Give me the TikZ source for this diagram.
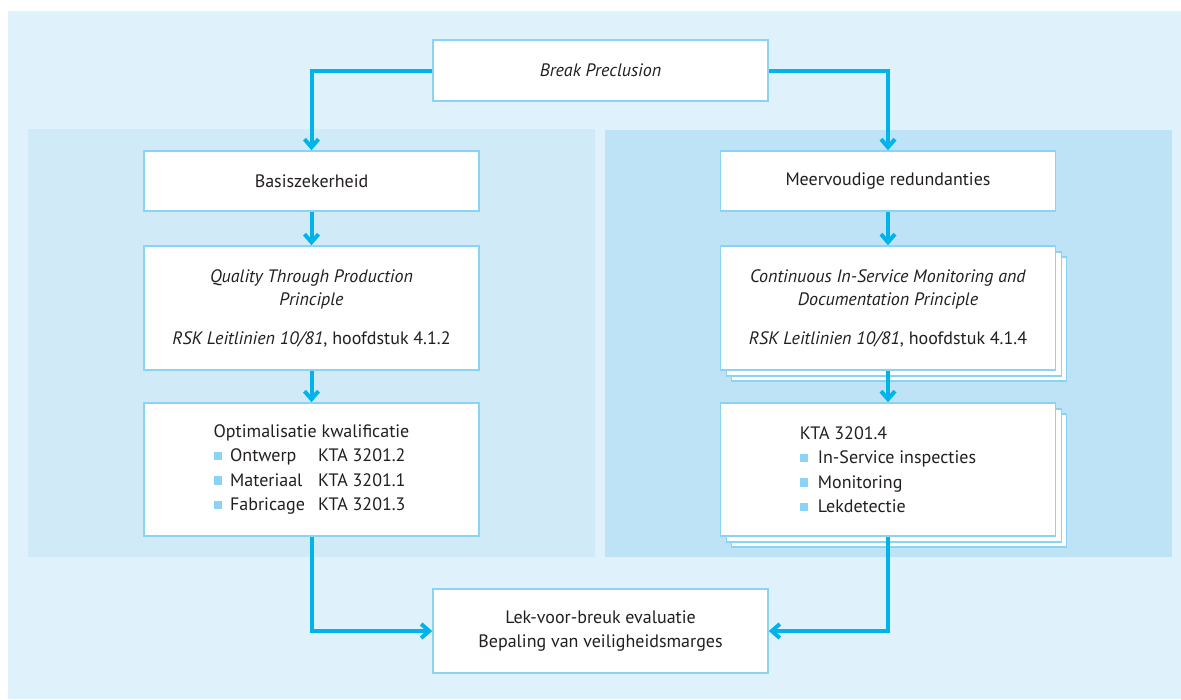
\documentclass[tikz,border=0pt]{standalone}
\usepackage{fontspec}
\setmainfont{PT Sans}
\usetikzlibrary{arrows.meta}
\definecolor{bgout}{HTML}{DFF1FB}
\definecolor{bgleft}{HTML}{D0EAF7}
\definecolor{bgright}{HTML}{BEE3F6}
\definecolor{boxc}{HTML}{8AD3F3}
\definecolor{connc}{HTML}{00B3E9}
\definecolor{bulc}{HTML}{8AD3F3}
\definecolor{txt}{HTML}{231F20}
\newcommand{\bulsq}{\textcolor{bulc}{\rule[1.5pt]{8.5pt}{8.5pt}}\hspace{8pt}}
\begin{document}
\begin{tikzpicture}[x=1pt,y=-1pt,
  box/.style={draw=boxc, line width=1.6pt, fill=white, minimum width=335pt,
    inner sep=0pt, align=center, text=txt, font=\fontsize{18}{23}\selectfont},
  listbox/.style={box, align=left, font=\fontsize{18}{24.5}\selectfont},
  conn/.style={draw=connc, line width=4pt, -{Straight Barb[length=8pt,width=14pt]}},
  panel/.style={fill=#1, draw=none}
]
\useasboundingbox (0,0) rectangle (1181,699);
\fill[white] (0,0) rectangle (1181,699);
\fill[bgout] (8,11) rectangle (1181,699);
\fill[bgleft] (28,129) rectangle (595,557);
\fill[bgright] (605,130) rectangle (1172,557);

% top
\node[box, minimum height=61pt] (brk) at (600.5,70.5) {\textit{Break Preclusion}};
% left column
\node[box, minimum height=60pt] (basis) at (311.5,181) {Basiszekerheid};
\node[box, minimum height=124pt] (qual) at (311.5,308)
  {\textit{Quality Through Production}\\\textit{Principle}\\[16pt]\textit{RSK Leitlinien 10/81}, hoofdstuk 4.1.2};
\node[listbox, minimum height=133pt] (optim) at (311.5,469.5)
  {Optimalisatie kwalificatie\\
   \bulsq\makebox[88pt][l]{Ontwerp}KTA 3201.2\\
   \bulsq\makebox[88pt][l]{Materiaal}KTA 3201.1\\
   \bulsq\makebox[88pt][l]{Fabricage}KTA 3201.3};
% right column
\node[box, minimum height=60pt] (meer) at (888,181) {Meervoudige redundanties};
\node[box, minimum height=124pt] (cont3) at (899,319) {};
\node[box, minimum height=124pt] (cont2) at (894,314) {};
\node[box, minimum height=124pt] (cont) at (888,308)
  {\textit{Continuous In-Service Monitoring and}\\\textit{Documentation Principle}\\[16pt]\textit{RSK Leitlinien 10/81}, hoofdstuk 4.1.4};
\node[box, minimum height=133pt] (kta3) at (899,480.5) {};
\node[box, minimum height=133pt] (kta2) at (894,475.5) {};
\node[listbox, minimum height=133pt] (kta) at (888,469.5)
  {KTA 3201.4\\
   \bulsq\hspace{1.5pt}In-Service inspecties\\
   \bulsq\hspace{1.5pt}Monitoring\\
   \bulsq\hspace{1.5pt}Lekdetectie};
% bottom
\node[box, minimum height=84pt, font=\fontsize{18}{24}\selectfont] (lek) at (600.5,631)
  {Lek-voor-breuk evaluatie\\Bepaling van veiligheidsmarges};

% connectors
\draw[conn] (brk.west) -| (basis.north);
\draw[conn] (brk.east) -| (meer.north);
\draw[conn] (basis.south) -- (qual.north);
\draw[conn] (qual.south) -- (optim.north);
\draw[conn] (meer.south) -- (cont.north);
\draw[conn] (cont.south) -- (kta.north);
\draw[conn] (optim.south) |- (lek.west);
\draw[conn] (kta.south) |- (lek.east);
\end{tikzpicture}
\end{document}
